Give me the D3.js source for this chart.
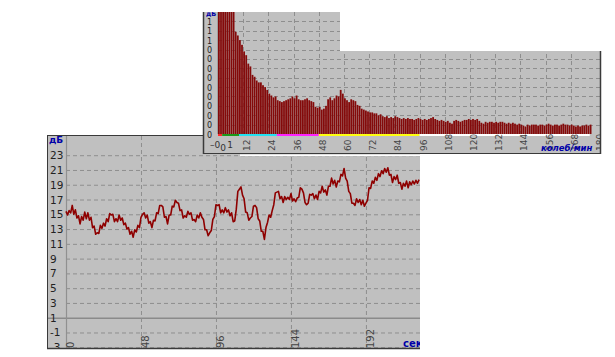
<!DOCTYPE html>
<html><head><meta charset="utf-8">
<script src="https://cdn.jsdelivr.net/npm/d3@7"></script>
<style>body{margin:0;background:#fff}svg{display:block}text{font-family:"DejaVu Sans",sans-serif}</style>
</head><body>
<svg id="c" width="615" height="357"></svg>
<script>
// ---- bottom chart: signal (dB) vs time (s), one value per second ----
const signal = [
15.4,14.9,15.5,15.2,16.2,15.0,15.6,14.5,14.8,13.7,
14.7,14.2,15.3,14.4,15.2,14.2,14.6,13.2,13.4,12.3,
12.5,12.4,13.5,13.1,13.8,13.4,14.4,14.0,15.1,14.9,
15.0,14.0,14.4,14.0,14.9,14.2,14.5,13.6,13.8,13.0,
13.2,12.3,12.7,11.9,12.9,12.6,13.5,13.2,14.6,15.0,
15.2,14.5,14.9,13.8,14.0,13.2,14.2,14.1,15.2,15.1,
16.2,16.2,16.0,14.6,14.7,13.7,14.9,14.9,16.1,16.0,
16.9,16.6,16.5,15.5,15.6,14.5,14.8,14.6,15.4,15.0,
15.2,14.2,14.3,14.0,14.9,14.5,15.2,14.6,14.3,12.9,
12.9,12.1,12.5,12.8,14.3,14.7,16.3,16.2,16.3,15.2,
15.6,15.2,15.9,15.3,15.6,14.8,15.2,14.0,14.1,15.7,
18.1,18.4,18.7,17.6,17.1,15.3,15.2,14.2,14.5,14.7,
16.1,16.2,15.9,14.4,14.1,12.7,12.7,11.6,13.2,13.9,
14.9,14.6,15.5,16.3,17.9,18.0,18.1,17.1,17.4,16.6,
17.4,17.0,17.3,17.0,17.8,16.8,17.1,16.7,17.2,17.3,
18.6,18.4,17.9,16.6,16.3,16.5,17.7,17.6,17.8,17.1,
17.6,17.0,18.1,17.9,18.8,18.0,18.3,17.6,18.8,18.8,
19.9,19.1,19.6,18.7,19.5,19.4,20.4,20.2,21.2,19.9,
19.5,18.1,17.8,16.5,16.5,16.2,17.1,16.6,17.0,16.3,
16.9,16.1,16.5,16.9,18.6,18.5,19.5,19.2,20.0,19.6,
20.5,20.1,20.9,20.5,21.2,20.7,21.3,20.3,20.4,19.3,
20.1,19.7,20.3,19.2,19.3,18.4,19.2,18.8,19.5,18.6,
19.4,19.0,19.5,19.1,19.6,19.2,19.7
];
const bottomYTicks = [23,21,19,17,15,13,11,9,7,5,3,1,-1,-3];
const bottomXTicks = [0,48,96,144,192];
const bottomYTitle = "дБ";
const bottomXTitle = "сек";

// ---- top chart: spectrum, one bar per колеб/мин ----
const spectrum = [
1.60,1.55,1.50,1.50,1.45,1.40,1.40,1.35,1.09,1.05,
1.00,0.95,0.88,0.84,0.75,0.72,0.63,0.61,0.57,0.55,
0.55,0.52,0.50,0.47,0.43,0.41,0.39,0.40,0.36,0.35,
0.34,0.35,0.36,0.37,0.38,0.40,0.38,0.41,0.37,0.36,
0.36,0.37,0.38,0.36,0.35,0.34,0.29,0.28,0.29,0.26,
0.27,0.30,0.37,0.39,0.36,0.38,0.41,0.40,0.47,0.43,
0.38,0.36,0.34,0.37,0.36,0.35,0.31,0.30,0.27,0.26,
0.25,0.24,0.23,0.23,0.22,0.22,0.20,0.21,0.19,0.18,
0.19,0.17,0.18,0.17,0.19,0.18,0.17,0.16,0.17,0.16,
0.17,0.16,0.16,0.15,0.16,0.17,0.16,0.15,0.16,0.15,
0.16,0.17,0.18,0.16,0.15,0.14,0.15,0.14,0.13,0.14,
0.12,0.11,0.14,0.15,0.14,0.13,0.14,0.15,0.15,0.16,
0.15,0.16,0.15,0.16,0.14,0.12,0.11,0.13,0.12,0.13,
0.13,0.12,0.13,0.12,0.13,0.13,0.12,0.11,0.12,0.11,
0.12,0.11,0.10,0.11,0.10,0.09,0.08,0.10,0.09,0.10,
0.10,0.10,0.09,0.10,0.10,0.09,0.10,0.11,0.10,0.09,
0.10,0.10,0.09,0.10,0.11,0.10,0.10,0.09,0.10,0.09,
0.08,0.09,0.08,0.09,0.09,0.10,0.09,0.10
];
const topYTicks = [1.2,1.1,1.0,0.9,0.8,0.7,0.6,0.5,0.4,0.3,0.2,0.1,0];
const topYLabels = ["1","1","1","0","0","0","0","0","0","0","0","0","0"];
const topXTicks = [12,24,36,48,60,72,84,96,108,120,132,144,156,168,180];
const topSmallTicks = [-1.4,2.4,5.8];
const topSmallLabels = ["–0","0","1"];
const topYTitle = "дБ";
const topXTitle = "колеб/мин";
const bandStarts = [0,2,10,28,48,96];
const bandEnds = [2,10,28,48,96,177];
const bandColors = ["#ff2a2a","#1a9a1a","#22e0f0","#ff20ff","#ffff10","#ffffff"];

const svg = d3.select("#c");
const GREY = "#c0c0c0", GRID = "#8e8e8e", DARK = "#3a3a3a", BLUE = "#0000a8", RED = "#8e0000";

// ================= bottom chart =================
const xB = d3.scaleLinear().domain([0, 226.6]).range([66, 420]);
const yB = d3.scaleLinear().domain([-3.1, 25.6]).range([348, 136]);
const gB = svg.append("g");
gB.append("rect").attr("x",47).attr("y",135).attr("width",373).attr("height",214).attr("fill",GREY);
gB.append("clipPath").attr("id","clipB").append("rect").attr("x",48).attr("y",136).attr("width",372).attr("height",212);
const gBc = gB.append("g").attr("clip-path","url(#clipB)");
gBc.selectAll("line.hg").data(bottomYTicks.filter(v=>v!==1)).join("line")
  .attr("x1",66).attr("x2",420).attr("y1",d=>yB(d)+0.5).attr("y2",d=>yB(d)+0.5)
  .attr("stroke",GRID).attr("stroke-dasharray","4,3");
gBc.append("line").attr("x1",48).attr("x2",420).attr("y1",yB(1)+0.5).attr("y2",yB(1)+0.5)
  .attr("stroke","#8a8a8a").attr("stroke-width",1.5);
gBc.selectAll("line.vg").data(bottomXTicks.filter(v=>v>0)).join("line")
  .attr("x1",d=>xB(d)+0.5).attr("x2",d=>xB(d)+0.5).attr("y1",136).attr("y2",348)
  .attr("stroke",GRID).attr("stroke-dasharray","4,3");
gBc.append("line").attr("x1",xB(0)+0.5).attr("x2",xB(0)+0.5).attr("y1",136).attr("y2",348)
  .attr("stroke","#909090").attr("stroke-width",1.2);
gBc.selectAll("text.yl").data(bottomYTicks).join("text")
  .attr("x",50).attr("y",d=>yB(d)+4).attr("font-size",10.5).attr("fill","#222").text(d=>d);
gBc.selectAll("text.xl").data(bottomXTicks).join("text")
  .attr("transform",d=>`translate(${xB(d)+8},348) rotate(-90)`).attr("font-size",10).attr("fill","#444").text(d=>d);
const line = d3.line().x((d,i)=>xB(i)).y(d=>yB(d));
gBc.append("path").datum(signal).attr("d",line).attr("fill","none").attr("stroke",RED).attr("stroke-width",1.6).attr("stroke-linejoin","round");
gBc.append("text").attr("x",49).attr("y",143).attr("font-size",9).attr("font-weight","bold").attr("fill",BLUE).text(bottomYTitle);
gBc.append("text").attr("x",403).attr("y",347).attr("font-size",10).attr("font-weight","bold").attr("fill",BLUE).text(bottomXTitle);
gB.append("line").attr("x1",47.5).attr("x2",47.5).attr("y1",135).attr("y2",349).attr("stroke",DARK);
gB.append("line").attr("x1",47).attr("x2",420).attr("y1",135.5).attr("y2",135.5).attr("stroke",DARK);
gB.append("line").attr("x1",47).attr("x2",420).attr("y1",348.5).attr("y2",348.5).attr("stroke",DARK).attr("stroke-width",1.5);

// ================= top chart =================
const xT = d3.scaleLinear().domain([0, 180]).range([218, 596]);
const yT = d3.scaleLinear().domain([0, 1.3]).range([134, 12]);
const gT = svg.append("g");
gT.append("rect").attr("x",203).attr("y",12).attr("width",398).attr("height",141).attr("fill",GREY);
gT.append("clipPath").attr("id","clipT").append("rect").attr("x",205).attr("y",12).attr("width",395).attr("height",141);
const gTc = gT.append("g").attr("clip-path","url(#clipT)");
gTc.selectAll("line.hg").data(topYTicks.filter(v=>v>0)).join("line")
  .attr("x1",218).attr("x2",600).attr("y1",d=>Math.round(yT(d))+0.5).attr("y2",d=>Math.round(yT(d))+0.5)
  .attr("stroke",GRID).attr("stroke-dasharray","4,3");
gTc.selectAll("line.vg").data(topXTicks.filter(v=>v<180)).join("line")
  .attr("x1",d=>Math.round(xT(d))+0.5).attr("x2",d=>Math.round(xT(d))+0.5).attr("y1",12).attr("y2",134)
  .attr("stroke",GRID).attr("stroke-dasharray","4,3");
gTc.selectAll("rect.bar").data(spectrum).join("rect")
  .attr("x",(d,i)=>xT(i)).attr("width",1.8)
  .attr("y",d=>yT(d)).attr("height",d=>yT(0)-yT(d))
  .attr("fill","#840a0a");
gTc.selectAll("rect.band").data(bandStarts).join("rect")
  .attr("x",d=>xT(d)).attr("width",(d,i)=>xT(bandEnds[i])-xT(d))
  .attr("y",134).attr("height",2).attr("fill",(d,i)=>bandColors[i]);
gTc.selectAll("text.yl").data(topYTicks).join("text")
  .attr("x",207).attr("y",d=>yT(d)+3.5).attr("font-size",8).attr("fill","#222").text((d,i)=>topYLabels[i]);
gTc.selectAll("text.xl").data(topXTicks).join("text")
  .attr("transform",d=>`translate(${xT(d)+7},151) rotate(-90)`).attr("font-size",9).attr("fill","#444").text(d=>d);
gTc.selectAll("text.xs").data(topSmallTicks).join("text")
  .attr("x",d=>xT(d)).attr("y",(d,i)=>i===1?151:148).attr("font-size",9).attr("fill","#333")
  .attr("text-anchor","middle").text((d,i)=>topSmallLabels[i]);
gTc.append("text").attr("x",206).attr("y",15.5).attr("font-size",6.5).attr("font-weight","bold").attr("fill",BLUE).text(topYTitle);
gTc.append("text").attr("x",541).attr("y",151).attr("font-size",8.5).attr("font-weight","bold").attr("font-style","italic").attr("fill",BLUE).text(topXTitle);
gT.append("line").attr("x1",203.5).attr("x2",203.5).attr("y1",12).attr("y2",154).attr("stroke",DARK).attr("stroke-width",1.5);
gT.append("line").attr("x1",600.5).attr("x2",600.5).attr("y1",12).attr("y2",154).attr("stroke",DARK).attr("stroke-width",1.5);
gT.append("line").attr("x1",203).attr("x2",601).attr("y1",153.5).attr("y2",153.5).attr("stroke",DARK);
gT.append("line").attr("x1",217.5).attr("x2",217.5).attr("y1",12).attr("y2",134).attr("stroke","#a0a0a0");
// white strip under the top panel and the blank corner that hides its upper right part
svg.append("rect").attr("x",240).attr("y",154.5).attr("width",362).attr("height",1.5).attr("fill","#fff");
svg.append("rect").attr("x",340).attr("y",0).attr("width",275).attr("height",51).attr("fill","#fff");
</script>
</body></html>
